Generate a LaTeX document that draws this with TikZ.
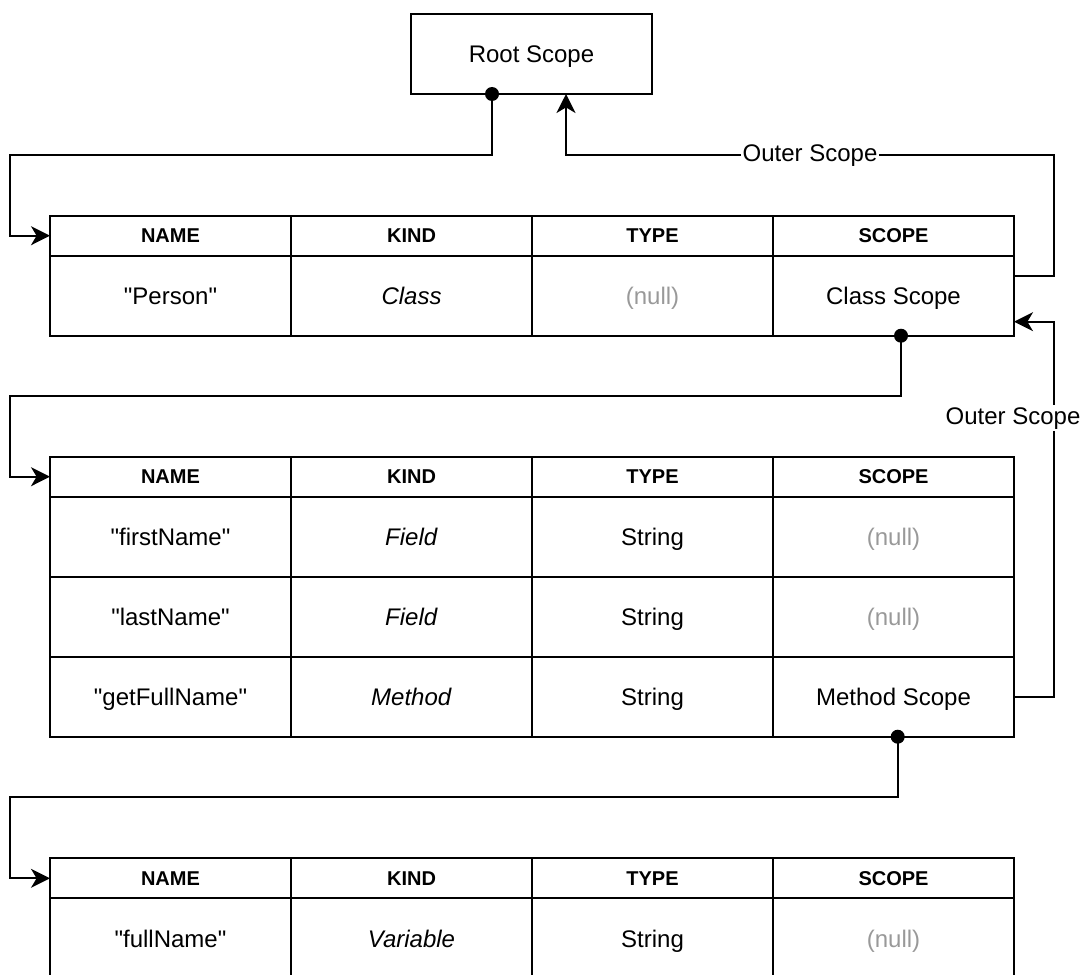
\documentclass[tikz,border=0pt]{standalone}
\usepackage{fontspec}
\setmainfont{Liberation Sans}[Ligatures=TeXOff]
\usetikzlibrary{arrows.meta,calc}
\definecolor{nullgray}{HTML}{999999}

% one row of a symbol table: name prefix, y centre, cell style, four texts
\newcommand\tblrow[7]{%
  \node[#3] (#1c1) at (170.5,#2) {#4};
  \node[#3] (#1c2) at (411.5,#2) {#5};
  \node[#3] (#1c3) at (652.5,#2) {#6};
  \node[#3] (#1c4) at (893.5,#2) {#7};}
\newcommand\nullval{\textcolor{nullgray}{(null)}}

\begin{document}
\begin{tikzpicture}[x=0.5pt,y=-0.5pt,
  every node/.style={font=\fontsize{12pt}{14pt}\selectfont,text height=10pt,text depth=1pt},
  box/.style={draw,line width=1pt,minimum width=120.5pt,minimum height=40pt,
    inner sep=0pt,outer sep=0pt},
  headcell/.style={box,minimum height=20pt,font=\fontsize{10pt}{12pt}\selectfont\bfseries,
    text height=8.2pt,text depth=1pt},
  bodycell/.style={box},
  link/.style={line width=1pt,-{Stealth[length=9.5pt,width=9.5pt,inset=2.8pt]}},
  lbl/.style={fill=white,inner sep=1pt,text height=8.6pt,text depth=2.4pt}]
\clip (0,0) rectangle (1080,974);

% root scope
\node[box] (root) at (531.5,54) {Root Scope};

% class scope table
\tblrow{t1h}{235.7}{headcell}{NAME}{KIND}{TYPE}{SCOPE}
\tblrow{t1r}{295.7}{bodycell}{"Person"}{\textit{Class}}{\nullval}{Class Scope}

% members of the class
\tblrow{t2h}{476.7}{headcell}{NAME}{KIND}{TYPE}{SCOPE}
\tblrow{t2a}{536.7}{bodycell}{"firstName"}{\textit{Field}}{String}{\nullval}
\tblrow{t2b}{616.7}{bodycell}{"lastName"}{\textit{Field}}{String}{\nullval}
\tblrow{t2c}{696.7}{bodycell}{"getFullName"}{\textit{Method}}{String}{Method Scope}

% method scope table
\tblrow{t3h}{878.3}{headcell}{NAME}{KIND}{TYPE}{SCOPE}
\tblrow{t3r}{938.3}{bodycell}{"fullName"}{\textit{Variable}}{String}{\nullval}

% routing points
\coordinate (d0) at ($(root.south west)+(81,0)$);
\coordinate (rootIn) at ($(root.south west)+(155,0)$);
\coordinate (laneA) at (10,155);
\coordinate (laneB) at (1054,155);
\coordinate (o1) at ($(t1hc4.north east)!0.5!(t1rc4.south east)$);
\coordinate (d1) at ($(t1rc4.south)+(7.5,0)$);
\coordinate (laneC) at (10,396);
\coordinate (t1in) at ($(t1rc4.south east)+(0,-14)$);
\coordinate (laneD) at (1054,321.7);
\coordinate (d2) at ($(t2cc4.south)+(4.2,0)$);
\coordinate (laneE) at (10,797);

% scope links
\draw[link] (d0) |- (laneA) |- (t1hc1.west);
\draw[link] (o1) -| (laneB) -| node[lbl,pos=0.25] (outer1) {Outer Scope} (rootIn);
\draw[link] (d1) |- (laneC) |- (t2hc1.west);
\draw[link] (t2cc4.east) -| (laneD) -- (t1in);
\node[lbl] (outer2) at (1013,418) {Outer Scope};
\draw[link] (d2) |- (laneE) |- (t3hc1.west);

% origin dots
\foreach \p in {d0,d1,d2} \fill (\p) circle[radius=3.5pt];
\end{tikzpicture}
\end{document}
